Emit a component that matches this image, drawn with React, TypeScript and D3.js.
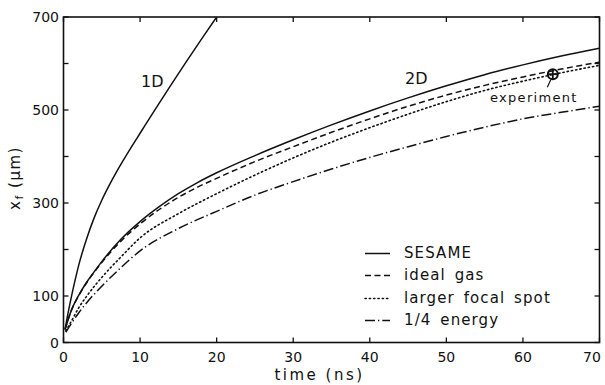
import React from "react";
import * as d3 from "d3";

const oneDTime = [0.2, 0.5, 1, 1.5, 2, 3, 4, 5, 6, 7, 8, 9, 10, 12, 14, 16, 18, 20];
const oneDVal = [28, 55, 96, 133, 167, 222, 268, 306, 339, 369, 397, 424, 450, 502, 553, 603, 652, 700];

const sesameTime = [0.2, 1, 2, 3, 4, 5, 7.5, 10, 12.5, 15, 17.5, 20, 25, 30, 35, 40, 45, 50, 55, 60, 65, 70];
const sesameVal = [28, 68, 102, 129, 152, 174, 222, 260, 292, 320, 344, 365, 402, 436, 468, 498, 526, 552, 576, 597, 616, 633];

const idealTime = [0.2, 1, 2, 3, 4, 5, 7.5, 10, 12.5, 15, 17.5, 20, 25, 30, 35, 40, 45, 50, 55, 60, 65, 70];
const idealVal = [28, 68, 101, 128, 151, 172, 218, 255, 286, 312, 334, 353, 389, 421, 452, 481, 508, 532, 553, 571, 588, 603];

const focalTime = [0.3, 1, 2, 3, 5, 7.5, 10, 15, 20, 25, 30, 35, 40, 45, 50, 55, 60, 65, 70];
const focalVal = [25, 45, 75, 99, 140, 184, 225, 277, 320, 360, 397, 431, 462, 491, 518, 542, 562, 580, 596];

const quarterTime = [0.3, 1, 2, 3, 5, 7.5, 10, 15, 20, 25, 30, 35, 40, 45, 50, 55, 60, 65, 70];
const quarterVal = [22, 40, 64, 85, 121, 161, 197, 245, 282, 317, 346, 373, 398, 421, 443, 463, 481, 495, 508];

const experimentTime = [63.9];
const experimentVal = [577];

const xTicks = [0, 10, 20, 30, 40, 50, 60, 70];
const yTicks = [0, 100, 200, 300, 400, 500, 600, 700];
const yTickLabels = [0, 100, 300, 500, 700];

const legendLabels = ["SESAME", "ideal gas", "larger focal spot", "1/4 energy"];
const legendDashes = ["none", "6,3.5", "1.3,3", "10,3,1.3,3"];

const FONT = "DejaVu Sans";

export default function App() {
  const W = 605, H = 385;
  const x = d3.scaleLinear().domain([0, 70]).range([63.5, 599.5]);
  const y = d3.scaleLinear().domain([0, 700]).range([342.5, 17]);
  const line = d3
    .line<[number, number]>()
    .x((d) => x(d[0]))
    .y((d) => y(d[1]))
    .curve(d3.curveMonotoneX);
  const zip = (t: number[], v: number[]) => t.map((tt, i) => [tt, v[i]] as [number, number]);

  const series = [
    { d: zip(sesameTime, sesameVal), dash: legendDashes[0] },
    { d: zip(idealTime, idealVal), dash: legendDashes[1] },
    { d: zip(focalTime, focalVal), dash: legendDashes[2] },
    { d: zip(quarterTime, quarterVal), dash: legendDashes[3] },
    { d: zip(oneDTime, oneDVal), dash: "none" },
  ];

  const [x0, x1] = x.range();
  const [y0, y1] = y.range();
  const tl = 5;
  const ex = x(experimentTime[0]);
  const ey = y(experimentVal[0]);

  return (
    <svg
      width={W}
      height={H}
      style={{ position: "absolute", left: 0, top: 0, background: "#fff" }}
      fontFamily={FONT}
    >
      <defs>
        <clipPath id="plot">
          <rect x={x0} y={y1} width={x1 - x0} height={y0 - y1} />
        </clipPath>
      </defs>
      <rect x={0} y={0} width={W} height={H} fill="#fff" />
      <g clipPath="url(#plot)">
        {series.map((s, i) => (
          <path
            key={i}
            d={line(s.d) || ""}
            fill="none"
            stroke="#111"
            strokeWidth={i === 2 ? 1.6 : 1.5}
            strokeDasharray={s.dash}
            strokeLinecap={i === 2 ? "round" : "butt"}
          />
        ))}
      </g>
      <rect x={x0} y={y1} width={x1 - x0} height={y0 - y1} fill="none" stroke="#111" strokeWidth={1.6} />
      {xTicks.map((t) => (
        <g key={"xt" + t}>
          <line x1={x(t)} x2={x(t)} y1={y0} y2={y0 - tl} stroke="#111" strokeWidth={1.3} />
          <line x1={x(t)} x2={x(t)} y1={y1} y2={y1 + tl} stroke="#111" strokeWidth={1.3} />
          <text x={Math.min(x(t), 592)} y={362} textAnchor="middle" fontSize={14} fill="#111">
            {t}
          </text>
        </g>
      ))}
      {yTicks.map((v) => (
        <g key={"yt" + v}>
          <line x1={x0} x2={x0 + tl} y1={y(v)} y2={y(v)} stroke="#111" strokeWidth={1.3} />
          <line x1={x1} x2={x1 - tl} y1={y(v)} y2={y(v)} stroke="#111" strokeWidth={1.3} />
        </g>
      ))}
      {yTickLabels.map((v) => (
        <text key={"yl" + v} x={59} y={y(v) + 5} textAnchor="end" fontSize={14} fill="#111">
          {v}
        </text>
      ))}
      <text x={(x0 + x1) / 2 - 12} y={380} textAnchor="middle" fontSize={15} letterSpacing={2.5} fill="#111">
        time (ns)
      </text>
      <text transform={`translate(20,178) rotate(-90)`} textAnchor="middle" fontSize={15} letterSpacing={1.5} fill="#111">
        <tspan>x</tspan>
        <tspan fontSize={11} dy={3}>f</tspan>
        <tspan dy={-3}> (µm)</tspan>
      </text>
      <text x={141} y={87} fontSize={16} fill="#111">1D</text>
      <text x={405} y={84} fontSize={16} fill="#111">2D</text>
      <circle cx={ex} cy={ey} r={5} fill="none" stroke="#111" strokeWidth={2} />
      <line x1={ex - 5} x2={ex + 5} y1={ey} y2={ey} stroke="#111" strokeWidth={1.8} />
      <line x1={ex} x2={ex} y1={ey - 5} y2={ey + 5} stroke="#111" strokeWidth={1.8} />
      <line x1={ex - 2} x2={ex - 5.5} y1={ey + 5.5} y2={ey + 13} stroke="#111" strokeWidth={1.2} />
      <text x={490} y={102} fontSize={13} letterSpacing={1.3} fill="#111">experiment</text>
      {legendLabels.map((lab, i) => {
        const by = [258, 280, 303, 325][i];
        return (
          <g key={"lg" + i}>
            <line
              x1={365}
              x2={390}
              y1={by - 4.5}
              y2={by - 4.5}
              stroke="#111"
              strokeWidth={1.5}
              strokeDasharray={legendDashes[i]}
              strokeLinecap={i === 2 ? "round" : "butt"}
            />
            <text x={404} y={by} fontSize={15} letterSpacing={1.1} wordSpacing={3} fill="#111">
              {lab}
            </text>
          </g>
        );
      })}
    </svg>
  );
}
